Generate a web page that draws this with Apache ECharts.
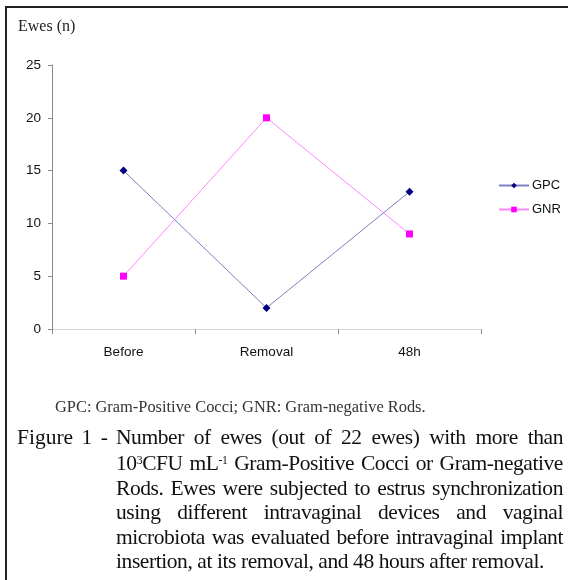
<!DOCTYPE html>
<html>
<head>
<meta charset="utf-8">
<script src="https://cdn.jsdelivr.net/npm/echarts@6/dist/echarts.min.js"></script>
<style>
html,body{margin:0;padding:0;background:#fff;}
#wrap{position:relative;width:568px;height:580px;overflow:hidden;}
#chart{position:absolute;left:0;top:0;width:568px;height:580px;}
.cap{position:absolute;font-family:"Liberation Serif","Times New Roman",serif;color:#111;white-space:nowrap;line-height:1;}
.jl{text-align:justify;text-align-last:justify;white-space:normal;}
.cap sup{font-size:0.55em;line-height:0;vertical-align:0.55em;}
#meas{position:absolute;left:-2000px;top:0;white-space:nowrap;font-family:"Liberation Serif","Times New Roman",serif;}
</style>
</head>
<body>
<div id="wrap">
<div id="chart"></div>
<div id="caption"></div>
<span id="meas"></span>
</div>
<script>
const categories = ['Before', 'Removal', '48h'];
const gpcValues = [15, 2, 13];
const gnrValues = [5, 20, 9];
const yTicks = [0, 5, 10, 15, 20, 25];
const yTitle = 'Ewes (n)';
const footnote = 'GPC: Gram-Positive Cocci; GNR: Gram-negative Rods.';
const captionLabel = 'Figure 1 -';
const captionLines = [
  'Number of ewes (out of 22 ewes) with more than',
  '10<sup>3</sup>CFU mL<sup>-1</sup> Gram-Positive Cocci or Gram-negative',
  'Rods. Ewes were subjected to estrus synchronization',
  'using different intravaginal devices and vaginal',
  'microbiota was evaluated before intravaginal implant',
  'insertion, at its removal, and 48 hours after removal.'
];

// caption layout (HTML text, justified like the source)
(function () {
  const capEl = document.getElementById('caption');
  const meas = document.getElementById('meas');
  const bodyLeft = 116, bodyRight = 563, bodyW = bodyRight - bodyLeft;
  const lineCenters = [438, 464, 489, 513, 538, 562];
  const fs = 21.5;
  meas.style.fontSize = fs + 'px';
  let ls = 0;
  captionLines.forEach(function (l) {
    meas.innerHTML = l;
    const w = meas.getBoundingClientRect().width;
    const n = meas.textContent.length;
    if (w > bodyW) ls = Math.min(ls, (bodyW - w) / n - 0.02);
  });
  const lab = document.createElement('div');
  lab.className = 'cap jl';
  lab.style.fontSize = fs + 'px';
  lab.style.left = '17px';
  lab.style.width = '91px';
  lab.style.top = (lineCenters[0] - fs * 0.5) + 'px';
  lab.textContent = captionLabel;
  capEl.appendChild(lab);
  captionLines.forEach(function (l, i) {
    const d = document.createElement('div');
    d.className = 'cap' + (i < captionLines.length - 1 ? ' jl' : '');
    d.style.fontSize = fs + 'px';
    d.style.letterSpacing = ls + 'px';
    d.style.left = bodyLeft + 'px';
    if (i < captionLines.length - 1) d.style.width = bodyW + 'px';
    d.style.top = (lineCenters[i] - fs * 0.5) + 'px';
    d.innerHTML = l;
    capEl.appendChild(d);
  });
})();

const chart = echarts.init(document.getElementById('chart'), null, {renderer: 'canvas'});
const sans = '"Liberation Sans", Arial, sans-serif';
const serif = '"Liberation Serif", "Times New Roman", serif';

chart.setOption({
  animation: false,
  backgroundColor: '#fff',
  grid: {left: 52, right: 87, top: 65, bottom: 251, containLabel: false},
  xAxis: {
    type: 'category',
    data: categories,
    boundaryGap: true,
    axisLine: {show: true, lineStyle: {color: '#d4d4d4', width: 1}},
    axisTick: {show: true, length: 5, lineStyle: {color: '#8a8a8a'}},
    axisLabel: {color: '#111', fontFamily: sans, fontSize: 13.5, margin: 16}
  },
  yAxis: {
    type: 'value',
    min: yTicks[0],
    max: yTicks[yTicks.length - 1],
    interval: 5,
    axisLine: {show: true, lineStyle: {color: '#8a8a8a', width: 1}},
    axisTick: {show: true, length: 4, lineStyle: {color: '#8a8a8a'}},
    axisLabel: {color: '#111', fontFamily: sans, fontSize: 13.5, margin: 11},
    splitLine: {show: false}
  },
  legend: {
    orient: 'vertical',
    left: 498,
    top: 179,
    padding: 0,
    itemWidth: 30,
    itemHeight: 7,
    itemGap: 11,
    textStyle: {fontFamily: sans, fontSize: 13, color: '#111', padding: [0, 0, 0, -2]},
    data: ['GPC', 'GNR']
  },
  series: [
    {
      name: 'GPC',
      type: 'line',
      data: gpcValues,
      symbol: 'diamond',
      symbolSize: 8,
      lineStyle: {color: '#8080c0', width: 1},
      itemStyle: {color: '#000080'},
      emphasis: {disabled: true}
    },
    {
      name: 'GNR',
      type: 'line',
      data: gnrValues,
      symbol: 'rect',
      symbolSize: 7,
      lineStyle: {color: '#ff88ff', width: 1},
      itemStyle: {color: '#ff00ff'},
      emphasis: {disabled: true}
    }
  ],
  graphic: [
    {type: 'line', shape: {x1: 5.5, y1: 7, x2: 568, y2: 7}, style: {stroke: '#222', lineWidth: 2}},
    {type: 'line', shape: {x1: 6, y1: 6, x2: 6, y2: 580}, style: {stroke: '#222', lineWidth: 2}},
    {type: 'text', left: 18, top: 19, style: {text: yTitle, font: '16px ' + serif, fill: '#222'}},
    {type: 'text', left: 55, top: 400, style: {text: footnote, font: '16.4px ' + serif, fill: '#333'}}
  ]
});
</script>
</body>
</html>
